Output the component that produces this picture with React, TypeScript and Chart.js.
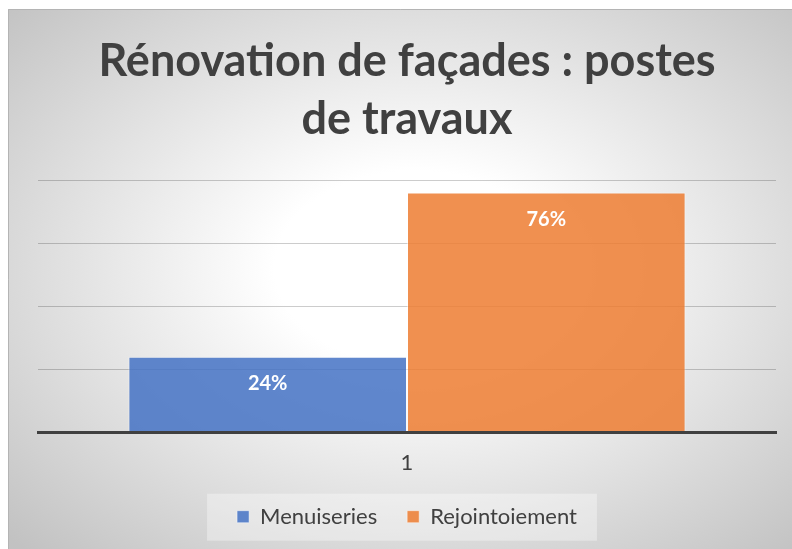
import React, { useEffect, useRef } from 'react';
import { Chart, registerables } from 'chart.js';

Chart.register(...registerables);

const categories = ['1'];
const seriesNames = ['Menuiseries', 'Rejointoiement'];
const menuiseries = [24];
const rejointoiement = [76];
const yMin = 0;
const yMax = 80;
const yStep = 20;
const titleLines = ['Rénovation de façades : postes', 'de travaux'];

const FONT = 'Lato, "Open Sans", sans-serif';

const bgPlugin = {
  id: 'bgGradient',
  beforeDraw(chart: any) {
    const { ctx, width, height } = chart;
    ctx.save();
    const cx = width * 0.52;
    const cy = height * 0.48;
    ctx.translate(cx, cy);
    ctx.scale(1, height / width);
    const g = ctx.createRadialGradient(0, 0, 0, 0, 0, width * 0.72);
    g.addColorStop(0, '#ffffff');
    g.addColorStop(0.25, '#ffffff');
    g.addColorStop(1, '#c2c2c2');
    ctx.fillStyle = g;
    ctx.fillRect(-cx, -cy * (width / height), width, width * 1.2);
    ctx.restore();
    ctx.save();
    ctx.strokeStyle = '#b4b4b4';
    ctx.lineWidth = 1;
    ctx.beginPath();
    ctx.moveTo(0.5, height);
    ctx.lineTo(0.5, 0.5);
    ctx.lineTo(width, 0.5);
    ctx.stroke();
    // legend backdrop
    const lg = chart.legend;
    if (lg && lg.legendHitBoxes && lg.legendHitBoxes.length) {
      const hb = lg.legendHitBoxes;
      const first = hb[0];
      const last = hb[hb.length - 1];
      const x0 = first.left - 30;
      const x1 = last.left + last.width + 20;
      const ym = first.top + first.height / 2;
      ctx.fillStyle = 'rgba(255,255,255,0.35)';
      ctx.fillRect(x0, ym - 23, x1 - x0, 47);
    }
    ctx.restore();
  },
};

const labelPlugin = {
  id: 'barLabels',
  afterDatasetsDraw(chart: any) {
    const { ctx } = chart;
    ctx.save();
    ctx.fillStyle = '#ffffff';
    ctx.font = `bold 20px ${FONT}`;
    ctx.textAlign = 'center';
    ctx.textBaseline = 'middle';
    chart.data.datasets.forEach((ds: any, i: number) => {
      const meta = chart.getDatasetMeta(i);
      meta.data.forEach((el: any, j: number) => {
        ctx.fillText(`${ds.data[j]}%`, el.x, el.y + 27);
      });
    });
    ctx.restore();
  },
};

export default function App() {
  const ref = useRef<HTMLCanvasElement>(null);
  useEffect(() => {
    if (!ref.current) return;
    const chart = new Chart(ref.current, {
      type: 'bar',
      data: {
        labels: categories,
        datasets: [
          {
            label: seriesNames[0],
            data: menuiseries,
            backgroundColor: 'rgba(68,114,196,0.85)',
            borderColor: 'rgba(255,255,255,0.45)',
            borderWidth: 1,
          },
          {
            label: seriesNames[1],
            data: rejointoiement,
            backgroundColor: 'rgba(237,125,49,0.85)',
            borderColor: 'rgba(255,255,255,0.45)',
            borderWidth: 1,
          },
        ],
      },
      options: {
        responsive: false,
        animation: false,
        devicePixelRatio: 1,
        layout: { padding: { left: 30, right: 16, top: 0, bottom: 11.3 } },
        datasets: { bar: { barPercentage: 1, categoryPercentage: 0.755 } },
        scales: {
          x: {
            grid: { display: false, drawTicks: false },
            border: { display: true, color: '#404040', width: 3, z: 1 },
            ticks: { color: '#404040', font: { family: FONT, size: 22 }, padding: 17.5 },
            afterFit: (scale: any) => {
              scale.height = 43.3;
            },
          },
          y: {
            min: yMin,
            max: yMax,
            ticks: { display: false, stepSize: yStep },
            grid: { color: 'rgba(0,0,0,0.2)', drawTicks: false, lineWidth: 1 },
            border: { display: false },
          },
        },
        plugins: {
          title: {
            display: true,
            text: titleLines,
            color: '#404040',
            font: { family: FONT, size: 45, weight: 'bold', lineHeight: 1.3 },
            padding: { top: 22.75, bottom: 31.25 },
          },
          legend: {
            position: 'bottom',
            labels: {
              color: '#404040',
              font: { family: FONT, size: 22 },
              boxWidth: 12,
              boxHeight: 12,
              padding: 30,
            },
          },
          tooltip: { enabled: false },
        },
      },
      plugins: [bgPlugin, labelPlugin],
    });
    return () => chart.destroy();
  }, []);
  return (
    <div style={{ position: 'absolute', left: 8, top: 9, width: 784, height: 540 }}>
      <canvas ref={ref} width={784} height={540} style={{ display: 'block', width: 784, height: 540 }} />
    </div>
  );
}
